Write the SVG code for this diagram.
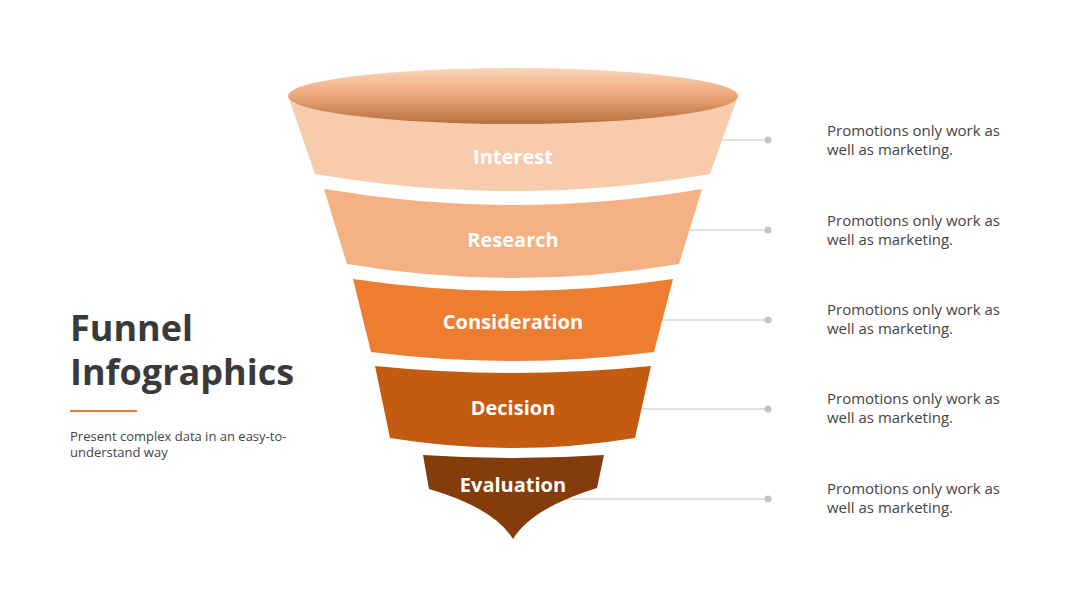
<svg xmlns="http://www.w3.org/2000/svg" width="1080" height="608" viewBox="0 0 1080 608">
<defs>
<linearGradient id="rim" x1="0" y1="0" x2="0" y2="1">
<stop offset="0" stop-color="#f9d6bd"/>
<stop offset="0.45" stop-color="#efab80"/>
<stop offset="1" stop-color="#b86e3d"/>
</linearGradient>
<style>
.lbl{font-family:"Open Sans","Liberation Sans",sans-serif;font-weight:700;font-size:20px;fill:#ffffff;text-anchor:middle}
.desc{font-family:"Open Sans","Liberation Sans",sans-serif;font-size:15px;fill:#444444}
.conn{stroke:#d9d9d9;stroke-width:1.3;fill:none}
.dot{fill:#c4c4c4}
</style>
</defs>
<rect width="1080" height="608" fill="#ffffff"/>

<g id="title">
<text x="70" y="341" font-family="'Open Sans','Liberation Sans',sans-serif" font-weight="700" font-size="36" fill="#3a3a3a">Funnel</text>
<text x="70" y="385" font-family="'Open Sans','Liberation Sans',sans-serif" font-weight="700" font-size="36" fill="#3a3a3a">Infographics</text>
<line x1="70" y1="411" x2="137" y2="411" stroke="#ed7d31" stroke-width="2"/>
<text x="70" y="441" font-family="'Open Sans','Liberation Sans',sans-serif" font-size="13" fill="#444444">Present complex data in an easy-to-</text>
<text x="70" y="457" font-family="'Open Sans','Liberation Sans',sans-serif" font-size="13" fill="#444444">understand way</text>
</g>

<g id="connectors">
<line class="conn" x1="715" y1="140" x2="768" y2="140"/>
<circle class="dot" cx="768" cy="140" r="3.5"/>
<line class="conn" x1="685" y1="230" x2="768" y2="230"/>
<circle class="dot" cx="768" cy="230" r="3.5"/>
<line class="conn" x1="658" y1="320" x2="768" y2="320"/>
<circle class="dot" cx="768" cy="320" r="3.5"/>
<line class="conn" x1="636" y1="409" x2="768" y2="409"/>
<circle class="dot" cx="768" cy="409" r="3.5"/>
<line class="conn" x1="560" y1="499" x2="768" y2="499"/>
<circle class="dot" cx="768" cy="499" r="3.5"/>
</g>

<g id="interest">
<path d="M288,96 L315,174 Q513,208 710,174 L738,96 Z" fill="#f8cbad"/>
<ellipse cx="513" cy="96" rx="225" ry="28" fill="url(#rim)"/>
<text class="lbl" x="513" y="164">Interest</text>
</g>
<g id="research">
<path d="M324,189 Q513,221 702,189 L679,264 Q513,292 347,264 Z" fill="#f4b183"/>
<text class="lbl" x="513" y="247">Research</text>
</g>
<g id="consideration">
<path d="M353,279 Q513,303 673,279 L654,352 Q513,370 371,352 Z" fill="#ed7d31"/>
<text class="lbl" x="513" y="329">Consideration</text>
</g>
<g id="decision">
<path d="M375,366 Q513,380 651,366 L635,438 Q513,458 390,438 Z" fill="#c55a11"/>
<text class="lbl" x="513" y="415">Decision</text>
</g>
<g id="evaluation">
<path d="M423,455 Q513,461 604,455 L597,488 Q532,508 513,539 Q494,508 429,489 Z" fill="#843c0c"/>
<text class="lbl" x="513" y="492">Evaluation</text>
</g>

<g id="notes">
<text class="desc" x="827" y="136">Promotions only work as</text>
<text class="desc" x="827" y="155">well as marketing.</text>
<text class="desc" x="827" y="226">Promotions only work as</text>
<text class="desc" x="827" y="245">well as marketing.</text>
<text class="desc" x="827" y="315">Promotions only work as</text>
<text class="desc" x="827" y="334">well as marketing.</text>
<text class="desc" x="827" y="404">Promotions only work as</text>
<text class="desc" x="827" y="423">well as marketing.</text>
<text class="desc" x="827" y="494">Promotions only work as</text>
<text class="desc" x="827" y="513">well as marketing.</text>
</g>
</svg>
